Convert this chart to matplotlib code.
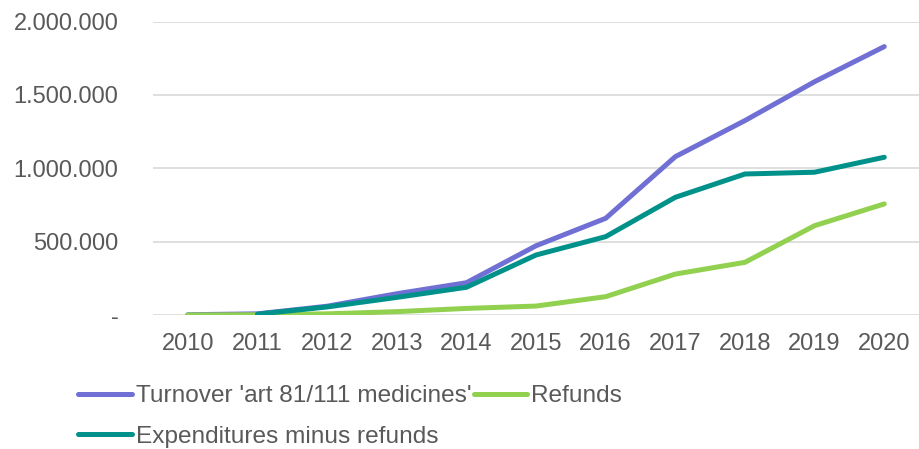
import matplotlib.pyplot as plt
import numpy as np

plt.rcParams['font.family'] = ['Liberation Sans', 'DejaVu Sans']

years = ['2010', '2011', '2012', '2013', '2014', '2015', '2016', '2017', '2018', '2019', '2020']
turnover = [2000, 8000, 60000, 145000, 220000, 472000, 659000, 1079000, 1325000, 1590000, 1829000]
refunds = [0, 2000, 8000, 23000, 45000, 61000, 125000, 279000, 359000, 609000, 757000]
expenditures = [np.nan, 6000, 55000, 120000, 189000, 409000, 534000, 802000, 961000, 973000, 1075000]

c_turnover = '#7070D4'
c_refunds = '#92D050'
c_exp = '#00918B'
text_c = '#595959'

fig = plt.figure(figsize=(9.2, 4.49), dpi=100)
ax = fig.add_axes([0.1663, 0.2984, 0.8327, 0.6537])

x = np.arange(len(years))
l1, = ax.plot(x, turnover, color=c_turnover, lw=3.6, solid_capstyle='round', solid_joinstyle='round',
              label="Turnover 'art 81/111 medicines'", zorder=3)
l2, = ax.plot(x, refunds, color=c_refunds, lw=3.6, solid_capstyle='round', solid_joinstyle='round',
              label='Refunds', zorder=4)
l3, = ax.plot(x, expenditures, color=c_exp, lw=3.6, solid_capstyle='round', solid_joinstyle='round',
              label='Expenditures minus refunds', zorder=5)

ax.set_xlim(-0.5, len(years) - 0.5)
ax.set_ylim(0, 2000000)
yticks = [0, 500000, 1000000, 1500000, 2000000]
ax.set_yticks(yticks)
ax.set_yticklabels(['-' if v == 0 else f'{v:,}'.replace(',', '.') for v in yticks])
ax.set_xticks(x)
ax.set_xticklabels(years)
ax.tick_params(axis='y', length=0, pad=25, labelsize=17, labelcolor=text_c)
ax.tick_params(axis='x', length=0, pad=13, labelsize=17, labelcolor=text_c)

ax.grid(axis='y', color='#D9D9D9', lw=1.2, zorder=0)
ax.set_axisbelow(True)
for s in ax.spines.values():
    s.set_visible(False)

leg = fig.legend([l1, l3, l2], [l1.get_label(), l3.get_label(), l2.get_label()],
                 ncol=2, loc='upper left', bbox_to_anchor=(0.085, 0.142),
                 frameon=False, fontsize=17.6, handlelength=2.2, handletextpad=0.15,
                 columnspacing=0.1, labelspacing=0.75, borderaxespad=0, borderpad=0)
for t in leg.get_texts():
    t.set_color(text_c)

fig.savefig('out.png', dpi=100)
